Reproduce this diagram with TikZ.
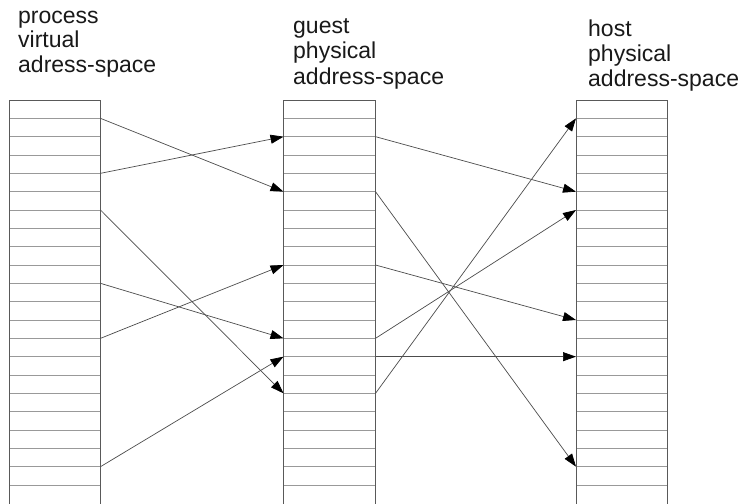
\documentclass[tikz,border=0pt]{standalone}
\usepackage{fontspec}
\setmainfont{Liberation Sans}
\usetikzlibrary{arrows.meta}
\begin{document}
\begin{tikzpicture}[x=1pt,y=-1pt,
  rowline/.style={draw=black!40,line width=0.7pt},
  colborder/.style={draw=black!65,line width=0.8pt},
  conn/.style={draw=black!70,line width=0.7pt,-{Triangle[length=13pt,width=9pt,color=black]}},
  lbl/.style={anchor=base west,inner sep=0pt,font=\fontsize{23}{25}\selectfont,text=black!90}]
\useasboundingbox (0,0) rectangle (743,503);
\fill[white] (0,0) rectangle (743,503);
% columns
\foreach \c/\xa/\xb in {L/9.5/100.5, M/283.5/375.5, R/576/667.5}{
  \foreach \k in {1,...,21}{
    \draw[rowline] (\xa,100+\k*18.333) -- (\xb,100+\k*18.333);
    \coordinate (\c w\k) at (\xa,100+\k*18.333);
    \coordinate (\c e\k) at (\xb,100+\k*18.333);
  }
  \draw[colborder] (\xa,503.5) -- (\xa,100) -- (\xb,100) -- (\xb,503.5);
}
% labels
\node[lbl] (p1) at (18,23.5) {process};
\node[lbl] (p2) at (18,47.5) {virtual};
\node[lbl] (p3) at (18,72) {adress-space};
\node[lbl] (g1) at (293,34) {guest};
\node[lbl] (g2) at (293,59) {physical};
\node[lbl] (g3) at (293,84) {address-space};
\node[lbl] (h1) at (588,36.5) {host};
\node[lbl] (h2) at (588,61.5) {physical};
\node[lbl] (h3) at (588,86.5) {address-space};
% process -> guest
\draw[conn] (Le1) -- (Mw5);
\draw[conn] (Le4) -- (Mw2);
\draw[conn] (Le6) -- (Mw16);
\draw[conn] (Le10) -- (Mw13);
\draw[conn] (Le13) -- (Mw9);
\draw[conn] (Le20) -- (Mw14);
% guest -> host
\draw[conn] (Me2) -- (Rw5);
\draw[conn] (Me5) -- (Rw20);
\draw[conn] (Me9) -- (Rw12);
\draw[conn] (Me13) -- (Rw6);
\draw[conn] (Me14) -- (Rw14);
\draw[conn] (Me16) -- (Rw1);
\end{tikzpicture}
\end{document}
